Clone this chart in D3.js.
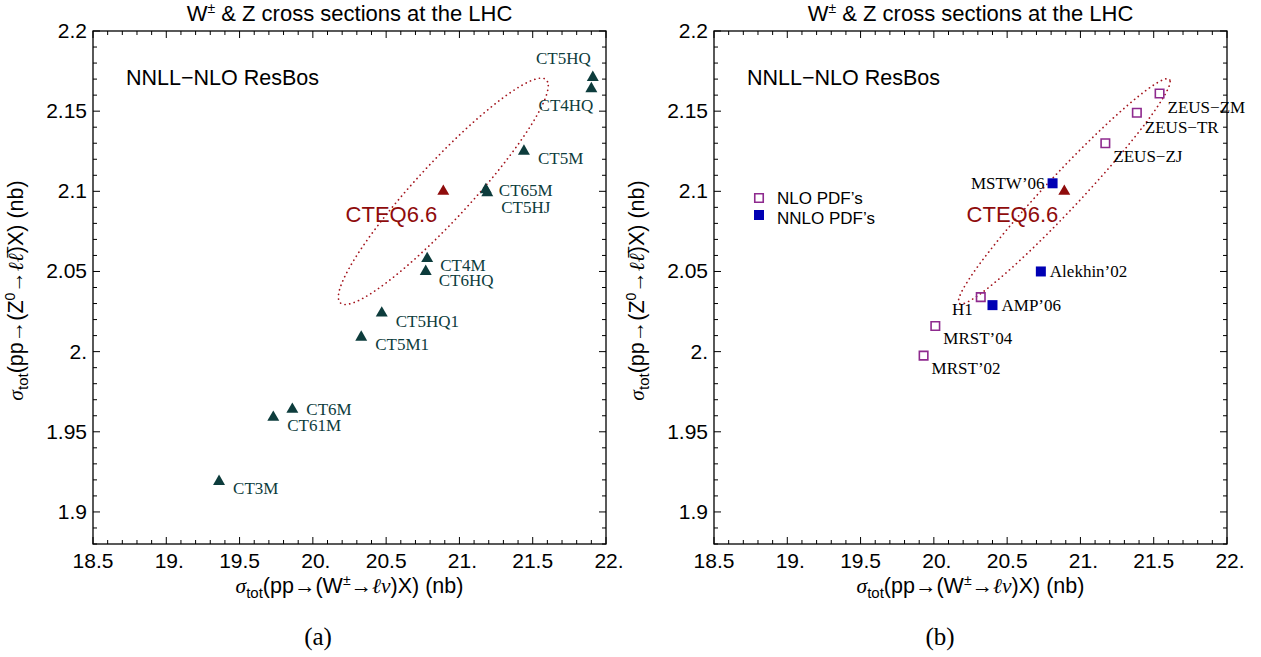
<!DOCTYPE html>
<html>
<head>
<meta charset="utf-8">
<script src="https://cdn.jsdelivr.net/npm/d3@7/dist/d3.min.js"></script>
<style>
  body { margin: 0; background: #fff; }
  svg text { font-family: "Liberation Sans", Arial, sans-serif; fill: #000; }
  svg text.serif { font-family: "Liberation Serif", "Times New Roman", serif; }
</style>
</head>
<body>
<div id="chart"></div>
<script>
// ---------------- data ----------------
const xTicks = [18.5, 19, 19.5, 20, 20.5, 21, 21.5, 22];
const xTickLabels = ['18.5', '19.', '19.5', '20.', '20.5', '21.', '21.5', '22.'];
const yTicks = [1.9, 1.95, 2, 2.05, 2.1, 2.15, 2.2];
const yTickLabels = ['1.9', '1.95', '2.', '2.05', '2.1', '2.15', '2.2'];

// panel (a): CTEQ sets, W and Z cross sections (nb)
const ctNames = ['CT5HQ', 'CT4HQ', 'CT5M', 'CT65M', 'CT5HJ', 'CT4M', 'CT6HQ', 'CT5HQ1', 'CT5M1', 'CT6M', 'CT61M', 'CT3M'];
const ctW = [21.91, 21.90, 21.44, 21.18, 21.19, 20.78, 20.77, 20.47, 20.33, 19.86, 19.73, 19.36];
const ctZ = [2.171, 2.164, 2.125, 2.101, 2.099, 2.058, 2.050, 2.024, 2.009, 1.964, 1.959, 1.919];

// panel (b): other groups
const nloNames = ['ZEUS\u2212ZM', 'ZEUS\u2212TR', 'ZEUS\u2212ZJ', 'H1', 'MRST\u201904', 'MRST\u201902'];
const nloW = [21.54, 21.385, 21.17, 20.32, 20.01, 19.93];
const nloZ = [2.161, 2.149, 2.130, 2.034, 2.016, 1.9975];
const nnloNames = ['MSTW\u201906', 'Alekhin\u201902', 'AMP\u201906'];
const nnloW = [20.81, 20.73, 20.40];
const nnloZ = [2.105, 2.050, 2.029];

// CTEQ6.6 central value and its 90% CL ellipse [halfW, halfZ, phase(deg)]
const cteqW = 20.89;
const cteqZ = 2.100;
const ellipseA = [0.716, 0.0706, 21];
const ellipseB = [0.722, 0.0703, 13];

// ---------------- layout ----------------
const width = 1261, height = 657;
const panels = [
    {x0: 93, x1: 606, tag: '(a)', tagX: 318},
    {x0: 714, x1: 1227, tag: '(b)', tagX: 940}
];
const plotTop = 31, plotBottom = 544;

const colors = {
    ct: '#0d3c3c',
    cteq: '#8f0c0c',
    ellipse: '#a3141c',
    nlo: '#8e2a8e',
    nnlo: '#0000b4'
};

// label placement relative to marker [dx, dy, anchor]
const labelPos = {
    'CT5HQ': [-2, -13, 'end'], 'CT4HQ': [2, 22, 'end'], 'CT5M': [14, 13, 'start'],
    'CT65M': [13, 6, 'start'], 'CT5HJ': [14, 20, 'start'], 'CT4M': [13, 12, 'start'],
    'CT6HQ': [13, 15, 'start'], 'CT5HQ1': [14, 14, 'start'], 'CT5M1': [14, 13, 'start'],
    'CT6M': [14, 6, 'start'], 'CT61M': [14, 14, 'start'], 'CT3M': [14, 13, 'start'],
    'ZEUS\u2212ZM': [8, 19, 'start'], 'ZEUS\u2212TR': [8, 20, 'start'], 'ZEUS\u2212ZJ': [8, 19, 'start'],
    'H1': [-8, 18, 'end'], 'MRST\u201904': [8, 18, 'start'], 'MRST\u201902': [8, 18, 'start'],
    'MSTW\u201906': [-8, 6, 'end'], 'Alekhin\u201902': [9, 6, 'start'], 'AMP\u201906': [9, 6, 'start']
};

const svg = d3.select('#chart').append('svg')
    .attr('width', width)
    .attr('height', height);

function drawPanel(p, idx) {
    const xScale = d3.scaleLinear().domain([18.5, 22]).range([p.x0, p.x1]);
    const yScale = d3.scaleLinear().domain([1.88, 2.2]).range([plotBottom, plotTop]);
    const g = svg.append('g');
    const cx = (p.x0 + p.x1) / 2;

    // frame
    g.append('rect')
        .attr('x', p.x0).attr('y', plotTop)
        .attr('width', p.x1 - p.x0).attr('height', plotBottom - plotTop)
        .attr('fill', 'none').attr('stroke', '#000').attr('stroke-width', 1.3);

    // ticks (inward on all four sides)
    const xMinor = d3.range(18.6, 21.95, 0.1).filter(v => Math.abs(v * 2 - Math.round(v * 2)) > 1e-6);
    const yMinor = d3.range(1.88, 2.195, 0.01).filter(v => Math.abs(v * 20 - Math.round(v * 20)) > 1e-6);
    const tickG = g.append('g').attr('stroke', '#000').attr('stroke-width', 1);
    [[xTicks, 7], [xMinor, 4]].forEach(([vals, len]) => {
        vals.forEach(v => {
            const px = xScale(v);
            tickG.append('line').attr('x1', px).attr('x2', px).attr('y1', plotBottom).attr('y2', plotBottom - len);
            tickG.append('line').attr('x1', px).attr('x2', px).attr('y1', plotTop).attr('y2', plotTop + len);
        });
    });
    [[yTicks, 7], [yMinor, 4]].forEach(([vals, len]) => {
        vals.forEach(v => {
            const py = yScale(v);
            tickG.append('line').attr('x1', p.x0).attr('x2', p.x0 + len).attr('y1', py).attr('y2', py);
            tickG.append('line').attr('x1', p.x1).attr('x2', p.x1 - len).attr('y1', py).attr('y2', py);
        });
    });

    // tick labels
    g.selectAll('.xtl').data(xTicks).enter().append('text')
        .attr('x', (d, i) => xScale(d) + (xTickLabels[i].endsWith('.') ? 3 : 0))
        .attr('y', plotBottom + 24)
        .attr('text-anchor', 'middle')
        .style('font-size', '21px')
        .text((d, i) => xTickLabels[i]);
    g.selectAll('.ytl').data(yTicks).enter().append('text')
        .attr('x', p.x0 - 6)
        .attr('y', d => yScale(d) + 7)
        .attr('text-anchor', 'end')
        .style('font-size', '21px')
        .text((d, i) => yTickLabels[i]);

    // title
    const title = g.append('text').attr('x', cx).attr('y', 21)
        .attr('text-anchor', 'middle').style('font-size', '22px');
    title.append('tspan').text('W');
    title.append('tspan').attr('dy', -8).style('font-size', '14px').text('\u00b1');
    title.append('tspan').attr('dy', 8).text(' & Z cross sections at the LHC');

    // x axis label
    const xl = g.append('text').attr('x', cx).attr('y', plotBottom + 49)
        .attr('text-anchor', 'middle').style('font-size', '21.5px');
    xl.append('tspan').style('font-family', 'Liberation Serif, serif').style('font-style', 'italic').text('\u03c3');
    xl.append('tspan').attr('dy', 5).style('font-size', '15px').text('tot');
    xl.append('tspan').attr('dy', -5).text('(pp\u2192(W');
    xl.append('tspan').attr('dy', -8).style('font-size', '14px').text('\u00b1');
    xl.append('tspan').attr('dy', 8).text('\u2192');
    xl.append('tspan').style('font-family', 'Liberation Serif, serif').style('font-style', 'italic').text('\u2113\u03bd');
    xl.append('tspan').text(')X) (nb)');

    // y axis label
    const ylx = p.x0 - 70, yly = (plotTop + plotBottom) / 2 + 3;
    const yl = g.append('text')
        .attr('transform', `translate(${ylx},${yly}) rotate(-90)`)
        .attr('text-anchor', 'middle').style('font-size', '21.5px');
    yl.append('tspan').style('font-family', 'Liberation Serif, serif').style('font-style', 'italic').text('\u03c3');
    yl.append('tspan').attr('dy', 5).style('font-size', '15px').text('tot');
    yl.append('tspan').attr('dy', -5).text('(pp\u2192(Z');
    yl.append('tspan').attr('dy', -8).style('font-size', '14px').text('0');
    yl.append('tspan').attr('dy', 8).text('\u2192');
    yl.append('tspan').style('font-family', 'Liberation Serif, serif').style('font-style', 'italic').text('\u2113\u2113\u0305');
    yl.append('tspan').text(')X) (nb)');

    // panel tag
    g.append('text').attr('class', 'serif').attr('x', p.tagX).attr('y', 645)
        .attr('text-anchor', 'middle').style('font-size', '25px').text(p.tag);

    // header
    g.append('text').attr('x', p.x0 + 33).attr('y', 85)
        .style('font-size', '21.5px').text('NNLL\u2212NLO ResBos');

    // CTEQ6.6 ellipse
    const e = idx === 0 ? ellipseA : ellipseB;
    const ph = e[2] * Math.PI / 180;
    const ts = d3.range(0, 2 * Math.PI, Math.PI / 90);
    const ellLine = d3.line()
        .x(t => xScale(cteqW + e[0] * Math.cos(t)))
        .y(t => yScale(cteqZ + e[1] * Math.cos(t + ph)))
        .curve(d3.curveLinearClosed);
    g.append('path')
        .attr('d', ellLine(ts))
        .attr('fill', 'none')
        .attr('stroke', colors.ellipse)
        .attr('stroke-width', 1.7)
        .attr('stroke-linecap', 'round')
        .attr('stroke-dasharray', '0.1 4.6');

    const tri = d3.symbol(d3.symbolTriangle, 62);
    const sqOpen = d3.symbol(d3.symbolSquare, 72);
    const sqFill = d3.symbol(d3.symbolSquare, 100);

    function addLabel(name, px, py, color) {
        const lp = labelPos[name];
        g.append('text').attr('class', 'serif')
            .attr('x', px + lp[0]).attr('y', py + lp[1])
            .attr('text-anchor', lp[2])
            .style('font-size', '17px')
            .style('fill', color)
            .text(name);
    }

    if (idx === 0) {
        ctNames.forEach((n, i) => {
            const px = xScale(ctW[i]), py = yScale(ctZ[i]);
            g.append('path').attr('d', tri).attr('transform', `translate(${px},${py})`).attr('fill', colors.ct);
            addLabel(n, px, py, colors.ct);
        });
    } else {
        nloNames.forEach((n, i) => {
            const px = xScale(nloW[i]), py = yScale(nloZ[i]);
            g.append('path').attr('d', sqOpen).attr('transform', `translate(${px},${py})`)
                .attr('fill', 'none').attr('stroke', colors.nlo).attr('stroke-width', 1.6);
            addLabel(n, px, py, '#000');
        });
        nnloNames.forEach((n, i) => {
            const px = xScale(nnloW[i]), py = yScale(nnloZ[i]);
            g.append('path').attr('d', sqFill).attr('transform', `translate(${px},${py})`).attr('fill', colors.nnlo);
            addLabel(n, px, py, '#000');
        });
        // legend
        const lg = g.append('g').attr('transform', `translate(${p.x0 + 45},198)`);
        lg.append('path').attr('d', sqOpen).attr('fill', 'none').attr('stroke', colors.nlo).attr('stroke-width', 1.6);
        lg.append('path').attr('d', sqFill).attr('transform', 'translate(0,17)').attr('fill', colors.nnlo);
        lg.append('text').attr('x', 18).attr('y', 6).style('font-size', '17px').text('NLO PDF\u2019s');
        lg.append('text').attr('x', 18).attr('y', 26).style('font-size', '17px').text('NNLO PDF\u2019s');
    }

    // CTEQ6.6 point
    const cpx = xScale(cteqW), cpy = yScale(cteqZ);
    g.append('path').attr('d', tri).attr('transform', `translate(${cpx},${cpy})`).attr('fill', colors.cteq);
    g.append('text').attr('x', cpx - 6).attr('y', cpy + 31)
        .attr('text-anchor', 'end')
        .style('font-size', '22px')
        .style('fill', colors.cteq)
        .text('CTEQ6.6');
}

panels.forEach(drawPanel);
</script>
</body>
</html>
